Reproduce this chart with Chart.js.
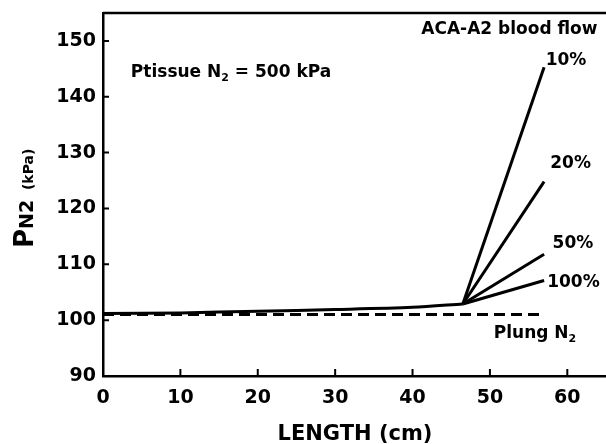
<!DOCTYPE html>
<html>
<head>
<meta charset="utf-8">
<script src="https://cdn.jsdelivr.net/npm/chart.js@4.4.1/dist/chart.umd.min.js"></script>
<style>
  html, body { margin: 0; padding: 0; background: #fff; }
  #wrap { width: 606px; height: 444px; }
</style>
</head>
<body>
<div id="wrap"><canvas id="chart" width="606" height="444"></canvas></div>
<script>
// ─── DATA ────────────────────────────────────────────────────────────────────
const X_TICKS = [0, 10, 20, 30, 40, 50, 60];
const Y_TICKS = [90, 100, 110, 120, 130, 140, 150];

// common arterial segment before the ACA-A2 branch (length cm / PN2 kPa)
const TRUNK_X = [0, 10, 20, 30, 40, 46.5];
const TRUNK_Y = [101.2, 101.3, 101.6, 101.9, 102.3, 102.9];

// branches after the split, one per blood flow
const BRANCH_X = [46.5, 57];
const FLOW_LABELS = ['10%', '20%', '50%', '100%'];
const FLOW_END_Y = [145.3, 124.8, 111.8, 107.1];

// lung N2 reference
const LUNG_X = [0, 57];
const LUNG_Y = [101.0, 101.0];

const FONT = "'DejaVu Sans', Verdana, sans-serif";
const INK = '#000';

const pts = (xs, ys) => xs.map((x, i) => ({ x, y: ys[i] }));

const datasets = [
  { data: pts(LUNG_X, LUNG_Y), borderDash: [11, 6] },
  { data: pts(TRUNK_X, TRUNK_Y), tension: 0.3 },
  ...FLOW_END_Y.map(end => ({ data: pts(BRANCH_X, [TRUNK_Y[TRUNK_Y.length - 1], end]) }))
].map(d => Object.assign({
  showLine: true,
  borderColor: INK,
  borderWidth: 3,
  pointRadius: 0,
  fill: false,
}, d));

// ─── HELPERS ─────────────────────────────────────────────────────────────────
// draw a run of [text, size, dy] pieces, left to right from (x, y)
function drawRun(ctx, parts, x, y, align) {
  const widths = parts.map(([t, s]) => { ctx.font = `bold ${s}px ${FONT}`; return ctx.measureText(t).width; });
  const total = widths.reduce((a, b) => a + b, 0);
  let cx = align === 'right' ? x - total : x;
  parts.forEach(([t, s, dy], i) => {
    ctx.font = `bold ${s}px ${FONT}`;
    ctx.fillText(t, cx, y + (dy || 0));
    cx += widths[i];
  });
}

const decor = {
  id: 'decor',
  afterDraw(chart) {
    const { ctx, chartArea: a, scales: { x, y } } = chart;
    ctx.save();
    ctx.strokeStyle = INK;
    ctx.fillStyle = INK;
    ctx.lineWidth = 2.5;

    // top frame line
    ctx.beginPath();
    ctx.moveTo(a.left, a.top);
    ctx.lineTo(a.right, a.top);
    ctx.stroke();

    // inward ticks
    ctx.lineWidth = 2;
    ctx.beginPath();
    Y_TICKS.forEach(v => { const p = y.getPixelForValue(v); ctx.moveTo(a.left, p); ctx.lineTo(a.left + 6, p); });
    X_TICKS.forEach(v => { const p = x.getPixelForValue(v); ctx.moveTo(p, a.bottom); ctx.lineTo(p, a.bottom - 7); });
    ctx.stroke();

    ctx.textBaseline = 'middle';
    const X = v => x.getPixelForValue(v);
    const Y = v => y.getPixelForValue(v);

    drawRun(ctx, [['ACA-A2 blood flow', 17]], X(63.9), Y(152.0), 'right');
    drawRun(ctx, [['Ptissue N', 17], ['2', 11, 6], [' = 500 kPa', 17]], X(3.6), Y(144.4));

    const labelAt = [[57.2, 146.4], [57.8, 128.1], [58.1, 113.8], [57.4, 106.8]];
    FLOW_LABELS.forEach((t, i) => drawRun(ctx, [[t, 17]], X(labelAt[i][0]), Y(labelAt[i][1])));

    drawRun(ctx, [['Plung N', 17], ['2', 11, 6]], X(50.5), Y(97.6));

    // x title
    ctx.textAlign = 'center';
    ctx.textBaseline = 'alphabetic';
    ctx.font = `bold 21px ${FONT}`;
    ctx.fillText('LENGTH (cm)', 355, 440);

    // y title, rotated, reading bottom to top
    ctx.textAlign = 'left';
    ctx.translate(33, 248);
    ctx.rotate(-Math.PI / 2);
    drawRun(ctx, [['P', 26], ['N2', 19], ['  (kPa)', 14]], 0, 0);
    ctx.restore();
  }
};

// ─── CHART ───────────────────────────────────────────────────────────────────
new Chart(document.getElementById('chart'), {
  type: 'scatter',
  data: { datasets },
  options: {
    responsive: false,
    animation: false,
    layout: { padding: { top: 13, right: 0, left: 0, bottom: 0 } },
    plugins: { legend: { display: false }, tooltip: { enabled: false } },
    scales: {
      x: {
        type: 'linear',
        min: 0,
        max: 65,
        afterBuildTicks: s => { s.ticks = X_TICKS.map(v => ({ value: v })); },
        afterFit: s => { s.height = 68; s.paddingLeft = 0; s.paddingRight = 0; },
        grid: { display: false, drawTicks: false },
        border: { display: true, color: INK, width: 2.5 },
        ticks: { color: INK, padding: 11, font: { family: FONT, size: 19, weight: 'bold' } },
      },
      y: {
        min: 90,
        max: 155,
        afterBuildTicks: s => { s.ticks = Y_TICKS.map(v => ({ value: v })); },
        afterFit: s => { s.width = 103; s.paddingTop = 0; s.paddingBottom = 0; },
        grid: { display: false, drawTicks: false },
        border: { display: true, color: INK, width: 2.5 },
        ticks: { color: INK, padding: 7, font: { family: FONT, size: 19, weight: 'bold' } },
      }
    }
  },
  plugins: [decor]
});
</script>
</body>
</html>
